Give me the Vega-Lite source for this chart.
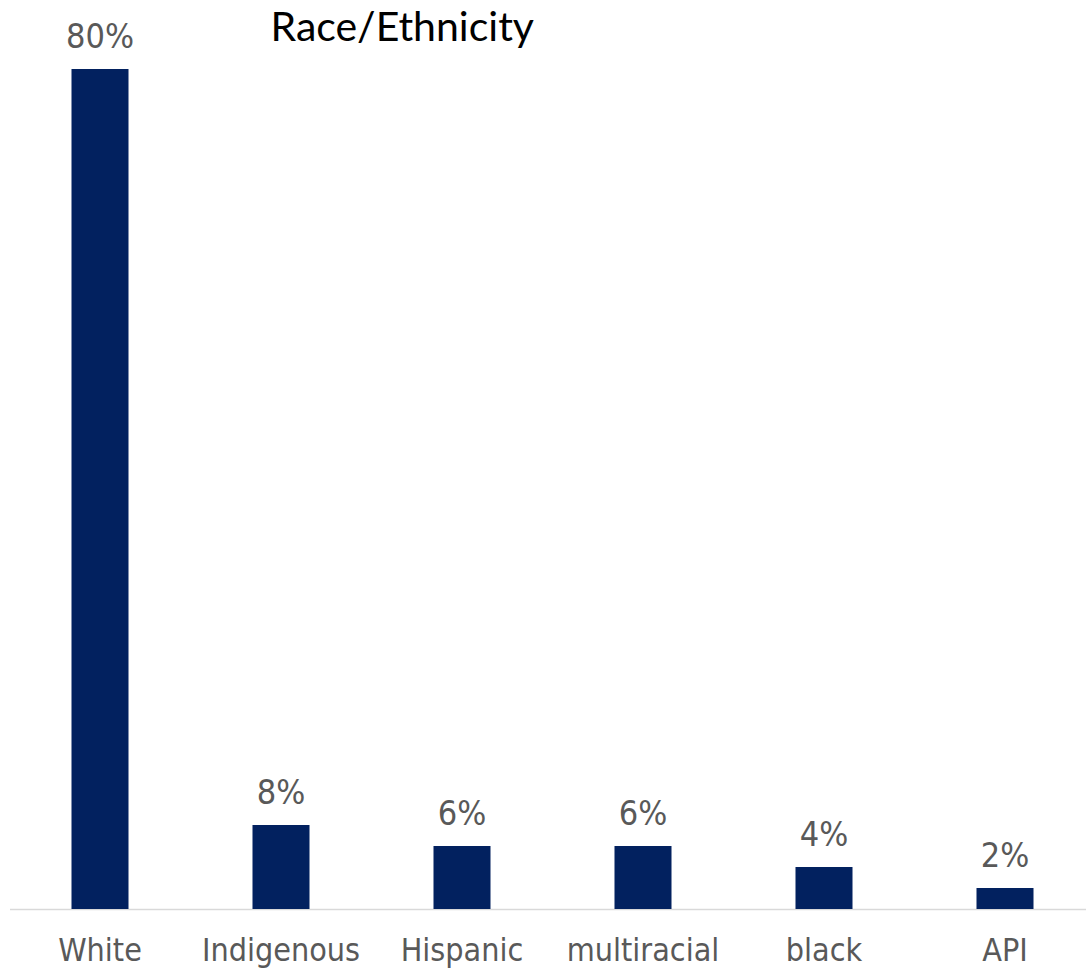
{
  "$schema": "https://vega.github.io/schema/vega-lite/v6.json",
  "autosize": "none",
  "width": 1086,
  "height": 840,
  "padding": {"left": 9.5, "top": 69, "right": 0, "bottom": 66},
  "background": "white",
  "title": {
    "text": "Race/Ethnicity",
    "anchor": "start",
    "dx": 261,
    "offset": -70,
    "baseline": "bottom",
    "font": "Lato",
    "fontSize": 41,
    "fontWeight": "normal",
    "color": "#000000"
  },
  "data": {
    "values": [
      {"group": "White", "pct": 0.80},
      {"group": "Indigenous", "pct": 0.08},
      {"group": "Hispanic", "pct": 0.06},
      {"group": "multiracial", "pct": 0.06},
      {"group": "black", "pct": 0.04},
      {"group": "API", "pct": 0.02}
    ]
  },
  "config": {"view": {"stroke": null}},
  "encoding": {
    "x": {
      "field": "group",
      "type": "nominal",
      "sort": null,
      "scale": {"paddingInner": 0.685, "paddingOuter": 0.3425},
      "axis": {
        "title": null,
        "labelAngle": 0,
        "labelFont": "DejaVu Sans Condensed",
        "labelFontSize": 32,
        "labelColor": "#595959",
        "labelPadding": 26,
        "ticks": false,
        "domainColor": "#d9d9d9",
        "domainWidth": 1.5,
        "grid": false
      }
    },
    "y": {
      "field": "pct",
      "type": "quantitative",
      "scale": {"domain": [0, 0.8], "nice": false},
      "axis": null
    }
  },
  "layer": [
    {"mark": {"type": "bar", "color": "#02215F"}},
    {
      "mark": {
        "type": "text",
        "baseline": "alphabetic",
        "dy": -21,
        "font": "DejaVu Sans Condensed",
        "fontSize": 34,
        "color": "#595959"
      },
      "encoding": {"text": {"field": "pct", "type": "quantitative", "format": ".0%"}}
    }
  ]
}
